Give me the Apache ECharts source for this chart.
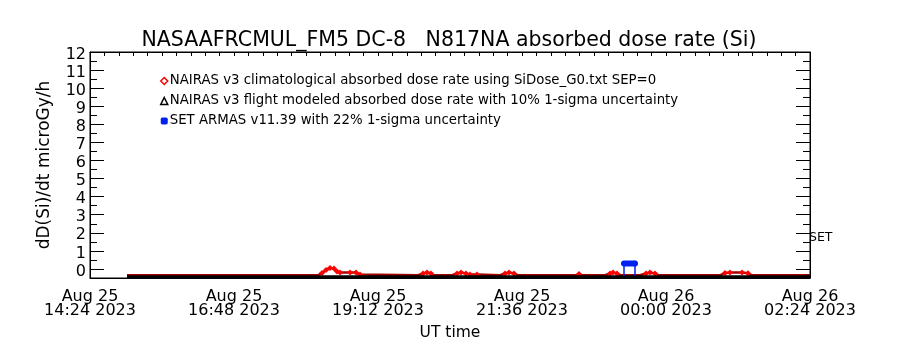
<!DOCTYPE html>
<html>
<head>
<meta charset="utf-8">
<script src="https://cdn.jsdelivr.net/npm/echarts@6/dist/echarts.min.js"></script>
<style>
  html, body { margin: 0; padding: 0; background: #fff; }
  #chart { width: 900px; height: 350px; }
</style>
</head>
<body>
<div id="chart"></div>
<script>
// Time window: Aug 25 2023 14:24 UT to Aug 26 2023 02:24 UT (minutes from start on x)
var startLabel = { day: 25, hh: 14, mm: 24 };
var spanMinutes = 720;
var majorStep = 144;
var minorStep = 14.4;

// Bottom axis labels (two lines each)
var xTickLabels = [
  'Aug 25\n14:24 2023',
  'Aug 25\n16:48 2023',
  'Aug 25\n19:12 2023',
  'Aug 25\n21:36 2023',
  'Aug 26\n00:00 2023',
  'Aug 26\n02:24 2023'
];

// Y axis
var yMin = -0.5;
var yMax = 12;
var yMajorTicks = [0, 1, 2, 3, 4, 5, 6, 7, 8, 9, 10, 11, 12];
var yMinorTicks = [-0.5, 0.5, 1.5, 2.5, 3.5, 4.5, 5.5, 6.5, 7.5, 8.5, 9.5, 10.5, 11.5];

// Series names
var nameClim = 'NAIRAS v3 climatological absorbed dose rate using SiDose_G0.txt SEP=0';
var nameFlight = 'NAIRAS v3 flight modeled absorbed dose rate with 10% 1-sigma uncertainty';
var nameArmas = 'SET ARMAS v11.39 with 22% 1-sigma uncertainty';

// NAIRAS climatological dose rate (UT clock time, microGy/h)
var climBase = -0.35;
var climTimes = ['15:01', '18:12', '18:16', '18:20', '18:24', '18:28', '18:31', '18:34', '18:44', '18:50', '18:54', '18:56',
  '19:52', '19:57', '20:01', '20:05', '20:08',
  '20:26', '20:31', '20:35', '20:40', '20:44', '20:51', '20:53',
  '21:14', '21:19', '21:23', '21:28', '21:32',
  '22:30', '22:33', '22:36',
  '22:59', '23:04', '23:07', '23:11', '23:15',
  '23:34', '23:40', '23:44', '23:49', '23:53',
  '00:54', '00:59', '01:04', '01:16', '01:22', '01:26',
  '02:24'];
var climValues = [-0.35, -0.35, -0.22, -0.06, 0.06, 0.03, -0.14, -0.2, -0.2, -0.2, -0.31, -0.35,
  -0.35, -0.25, -0.2, -0.25, -0.35,
  -0.35, -0.25, -0.2, -0.25, -0.3, -0.3, -0.35,
  -0.35, -0.25, -0.2, -0.25, -0.35,
  -0.35, -0.28, -0.35,
  -0.35, -0.25, -0.2, -0.25, -0.35,
  -0.35, -0.25, -0.2, -0.25, -0.35,
  -0.35, -0.22, -0.2, -0.2, -0.24, -0.35,
  -0.35];

// NAIRAS flight modeled dose rate
var flightTimes = ['15:01', '16:00', '17:00', '18:00', '19:00', '20:00', '21:00', '22:00', '23:00', '00:00', '01:00', '02:00', '02:24'];
var flightValues = [-0.43, -0.43, -0.43, -0.43, -0.43, -0.43, -0.43, -0.43, -0.43, -0.43, -0.43, -0.43, -0.43];

// SET ARMAS measured dose rate
var armasTimes = ['23:18', '23:18', '23:20', '23:22', '23:24', '23:26', '23:28', '23:29', '23:29'];
var armasValues = [-0.38, 0.3, 0.3, 0.3, 0.3, 0.3, 0.3, 0.3, -0.38];

function toMinutes(t) {
  var p = t.split(':');
  var h = +p[0], m = +p[1];
  var dayOffset = h < startLabel.hh ? 1440 : 0;
  return dayOffset + h * 60 + m - (startLabel.hh * 60 + startLabel.mm);
}
function pairs(times, values) {
  return times.map(function (t, i) { return [toMinutes(t), values[i]]; });
}

// Diamonds only where the climatological rate rises above its floor
var climData = pairs(climTimes, climValues).map(function (p) {
  return p[1] > climBase ? { value: p } : { value: p, symbol: 'none' };
});
var armasData = pairs(armasTimes, armasValues).map(function (p, i, arr) {
  var ends = (i === 0 || i === arr.length - 1);
  return ends ? { value: p, symbol: 'none' } : { value: p };
});

var font = 'DejaVu Sans, Liberation Sans, sans-serif';
var chart = echarts.init(document.getElementById('chart'), null, { renderer: 'canvas' });

var yBase = { type: 'value', min: yMin, max: yMax, splitLine: { show: false } };

chart.setOption({
  animation: false,
  backgroundColor: '#fff',
  title: {
    text: 'NASAAFRCMUL_FM5 DC-8   N817NA absorbed dose rate (Si)',
    left: 444, top: 25, textAlign: 'center',
    textStyle: { fontFamily: font, fontWeight: 'normal', fontSize: 20.5, color: '#000' }
  },
  grid: { left: 90, right: 90, top: 52, bottom: 72, show: true, borderColor: '#000', borderWidth: 1 },
  legend: {
    orient: 'vertical', left: 155, top: 69,
    itemWidth: 7, itemHeight: 7, itemGap: 6,
    textStyle: { fontFamily: font, fontSize: 13.3, color: '#000', lineHeight: 14, padding: [0, 0, 0, -3] },
    data: [
      { name: nameClim, icon: 'diamond', itemStyle: { color: '#fff', borderColor: '#ff0000', borderWidth: 1.5 } },
      { name: nameFlight, icon: 'triangle', itemStyle: { color: '#fff', borderColor: '#000', borderWidth: 1.5 } },
      { name: nameArmas, icon: 'roundRect', itemStyle: { color: '#0022ee', borderWidth: 0 } }
    ]
  },
  xAxis: [
    {
      type: 'value', position: 'bottom', min: 0, max: spanMinutes, interval: majorStep,
      axisLine: { show: true, onZero: false, lineStyle: { color: '#000' } },
      axisTick: { show: true, inside: true, length: 4, lineStyle: { color: '#000' } },
      axisLabel: {
        fontFamily: font, fontSize: 16, color: '#000', lineHeight: 14, margin: 12,
        formatter: function (v) { return xTickLabels[Math.round(v / majorStep)] || ''; }
      },
      splitLine: { show: false },
      name: 'UT time', nameLocation: 'middle', nameGap: 47,
      nameTextStyle: { fontFamily: font, fontSize: 15.5, color: '#000' }
    },
    {
      type: 'value', position: 'top', min: 0, max: spanMinutes, interval: minorStep,
      axisLine: { show: true, onZero: false, lineStyle: { color: '#000' } },
      axisTick: { show: true, inside: true, length: 4, lineStyle: { color: '#000' } },
      axisLabel: { show: false }, splitLine: { show: false }
    }
  ],
  yAxis: [
    Object.assign({}, yBase, {
      position: 'left',
      axisLine: { show: true, onZero: false, lineStyle: { color: '#000' } },
      axisTick: { show: true, inside: true, length: 14, customValues: yMajorTicks, lineStyle: { color: '#000' } },
      axisLabel: { fontFamily: font, fontSize: 16, color: '#000', margin: 4, verticalAlign: 'top', lineHeight: 5, customValues: yMajorTicks },
      name: 'dD(Si)/dt microGy/h', nameLocation: 'middle', nameGap: 37,
      nameTextStyle: { fontFamily: font, fontSize: 17, color: '#000', verticalAlign: 'bottom', lineHeight: 17 }
    }),
    Object.assign({}, yBase, {
      position: 'left',
      axisLine: { show: false, onZero: false },
      axisTick: { show: true, inside: true, length: 7, customValues: yMinorTicks, lineStyle: { color: '#000' } },
      axisLabel: { show: false }
    }),
    Object.assign({}, yBase, {
      position: 'right',
      axisLine: { show: true, onZero: false, lineStyle: { color: '#000' } },
      axisTick: { show: true, inside: true, length: 14, customValues: yMajorTicks, lineStyle: { color: '#000' } },
      axisLabel: { show: false }
    }),
    Object.assign({}, yBase, {
      position: 'right',
      axisLine: { show: false, onZero: false },
      axisTick: { show: true, inside: true, length: 7, customValues: yMinorTicks, lineStyle: { color: '#000' } },
      axisLabel: { show: false }
    })
  ],
  graphic: [
    {
      type: 'text', left: 809, top: 231,
      style: { text: 'SET', fontFamily: font, fontSize: 12.5, fill: '#000' }
    }
  ],
  series: [
    {
      name: nameClim, type: 'line', xAxisIndex: 0, yAxisIndex: 0, z: 2,
      data: climData,
      symbol: 'diamond', symbolSize: 6, showSymbol: true,
      itemStyle: { color: '#ff0000' },
      lineStyle: { color: '#a00000', width: 2.5 }
    },
    {
      name: nameFlight, type: 'line', xAxisIndex: 0, yAxisIndex: 0, z: 5,
      data: pairs(flightTimes, flightValues),
      symbol: 'none', itemStyle: { color: '#000' },
      lineStyle: { color: '#000', width: 3 }
    },
    {
      name: nameArmas, type: 'line', xAxisIndex: 0, yAxisIndex: 0, z: 6,
      data: armasData,
      symbol: 'circle', symbolSize: 6, showSymbol: true,
      itemStyle: { color: '#0022ee' },
      lineStyle: { color: '#0022ee', width: 1.5 }
    }
  ]
});
</script>
</body>
</html>
